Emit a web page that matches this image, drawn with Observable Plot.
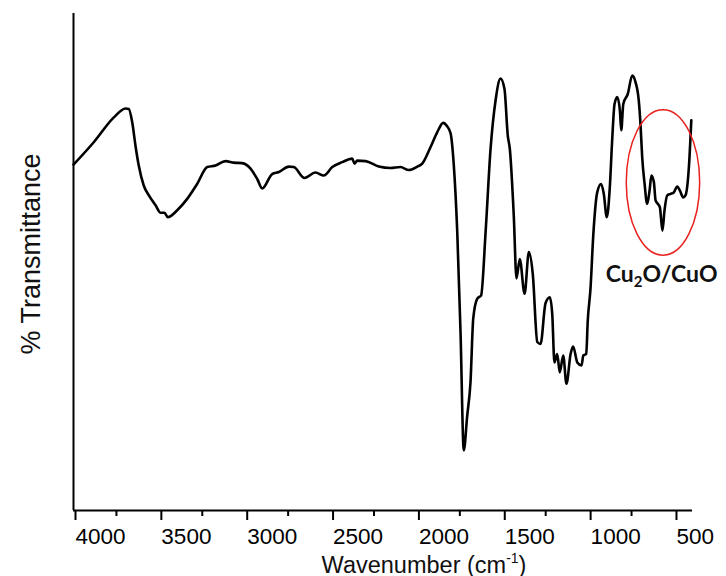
<!DOCTYPE html>
<html><head><meta charset="utf-8">
<script src="https://cdn.jsdelivr.net/npm/d3@7"></script>
<script src="https://cdn.jsdelivr.net/npm/@observablehq/plot@0.6"></script>
<style>html,body{margin:0;padding:0;background:#fff} #chart svg{display:block}</style>
</head><body><div id="chart"></div>
<script>
// FTIR spectrum: wavenumber (cm-1) and % transmittance (relative units)
const wavenumber = [
  4000,3882,3765,3697,3678,3658,3639,3620,3591,3561,
  3522,3493,3470,3451,3396,3338,3280,3221,3173,3115,
  3066,3018,2969,2930,2901,2843,2804,2746,2717,2655,
  2591,2542,2493,2435,2377,2363,2348,2299,2222,2154,
  2096,2047,1998,1969,1921,1882,1847,1824,1804,1785,
  1765,1746,1727,1707,1688,1672,1649,1626,1600,1571,
  1542,1513,1490,1471,1459,1436,1420,1401,1373,1348,
  1325,1299,1280,1251,1226,1212,1199,1183,1168,1148,
  1129,1105,1090,1066,1041,1031,1014,1005,989,973,
  950,927,912,894,877,863,849,833,818,810,
  798,772,746,727,708,698,688,674,659,645,
  634,620,610,597,585,570,558,542,523,504,
  484,469,449,436,416,402
];
const transmittance = [
  69.6,74.1,79.1,80.9,80.8,78.1,73.4,69.4,65.4,63.4,
  61.4,59.9,59.9,59.0,60.4,62.7,65.7,69.1,69.4,70.3,
  70.0,69.9,68.8,66.7,64.8,67.7,68.1,69.2,69.1,66.9,
  68.0,67.4,69.1,70.1,70.8,69.8,70.4,70.3,69.2,68.9,
  69.1,68.5,69.2,69.8,73.1,76.1,78.0,77.3,75.9,69.4,
  56.0,35.9,12.1,19.1,25.8,38.6,42.6,43.3,56.0,72.8,
  82.5,86.9,84.8,75.5,72.8,59.4,46.7,50.6,43.6,52.0,
  47.5,33.9,33.5,41.7,42.9,39.6,29.8,31.5,27.8,31.2,
  25.5,31.5,33.0,29.8,29.2,31.2,31.5,38.2,44.7,55.3,
  64.0,65.7,63.8,59.0,64.8,74.4,81.8,83.2,80.5,76.5,
  81.8,83.8,87.5,86.2,82.5,77.8,71.1,65.7,61.7,64.4,
  67.4,66.1,62.4,61.7,61.0,56.3,60.4,63.4,63.7,64.0,
  65.2,64.4,63.0,63.4,69.1,78.5
];
const majorTicks = [4000, 3500, 3000, 2500, 2000, 1500, 1000, 500];
const minorTicks = [3750, 3250, 2750, 2250, 1750, 1250, 750];
const xLabel = "Wavenumber (cm-1)";
const yLabel = "% Transmittance";
const annotationLabel = "Cu2O/CuO";
const ellipseCenter = [{wn: 567, t: 66}];
const annotationPos = [{wn: 575, t: 45.9}];

const n = Math.min(wavenumber.length, transmittance.length);
const spectrum = d3.range(n).map(i => ({wn: wavenumber[i], t: transmittance[i]}));

// ellipse outline as a custom dot symbol
const ellipseSymbol = {
  draw(ctx) {
    const rx = 36.7, ry = 72.8, k = 0.5523;
    ctx.moveTo(rx, 0);
    ctx.bezierCurveTo(rx, ry * k, rx * k, ry, 0, ry);
    ctx.bezierCurveTo(-rx * k, ry, -rx, ry * k, -rx, 0);
    ctx.bezierCurveTo(-rx, -ry * k, -rx * k, -ry, 0, -ry);
    ctx.bezierCurveTo(rx * k, -ry, rx, -ry * k, rx, 0);
    ctx.closePath();
  }
};

const plot = Plot.plot({
  width: 726,
  height: 576,
  marginTop: 13,
  marginBottom: 66,
  marginLeft: 73,
  marginRight: 34,
  x: {domain: [4000, 395], axis: null},
  y: {domain: [0, 100], axis: null},
  style: {fontFamily: "'Liberation Sans', Arial, sans-serif", background: "white", color: "black"},
  marks: [
    Plot.ruleY([0], {stroke: "black", strokeWidth: 2}),
    Plot.ruleX([4000], {y1: 0, y2: 100, stroke: "black", strokeWidth: 2}),
    Plot.axisX({ticks: majorTicks, tickSize: 10, tickPadding: 8, tickFormat: d => String(d),
      textAnchor: "start", dx: 2, fontSize: 22.5, strokeWidth: 2, label: null}),
    Plot.axisX({ticks: minorTicks, tickSize: 6, tickFormat: () => "", strokeWidth: 2, label: null}),
    Plot.line(spectrum, {x: "wn", y: "t", stroke: "black", strokeWidth: 2.6, curve: "monotone-x"}),
    Plot.dot(ellipseCenter, {x: "wn", y: "t", symbol: ellipseSymbol, stroke: "#e8201e", strokeWidth: 1.5, fill: "none"}),
    Plot.text(annotationPos, {x: "wn", y: "t", text: () => annotationLabel, lineAnchor: "bottom",
      fontFamily: "Lato, 'Open Sans', sans-serif", fontWeight: "bold", fontSize: 23, fill: "#111"}),
    Plot.text([xLabel], {frameAnchor: "bottom", dy: 62, dx: 41, lineAnchor: "bottom", fontSize: 23.5, fill: "#111"}),
    Plot.text([yLabel], {frameAnchor: "left", textAnchor: "middle", rotate: -90, dx: -42, dy: -8, fontSize: 27, fill: "#111"})
  ]
});

// typographic sub/superscripts as real tspans
d3.select(plot).selectAll("text").each(function() {
  const s = this.textContent;
  const el = d3.select(this);
  if (s === xLabel) {
    el.text(null);
    el.append("tspan").text("Wavenumber (cm");
    el.append("tspan").attr("font-size", 14).attr("dy", -10).text("-1");
    el.append("tspan").attr("dy", 10).text(")");
  } else if (s === annotationLabel) {
    el.text(null);
    el.append("tspan").text("Cu");
    el.append("tspan").attr("font-size", 15).attr("dy", 5).text("2");
    el.append("tspan").attr("dy", -5).text("O/CuO");
  }
});

document.getElementById("chart").append(plot);
</script>
</body></html>
